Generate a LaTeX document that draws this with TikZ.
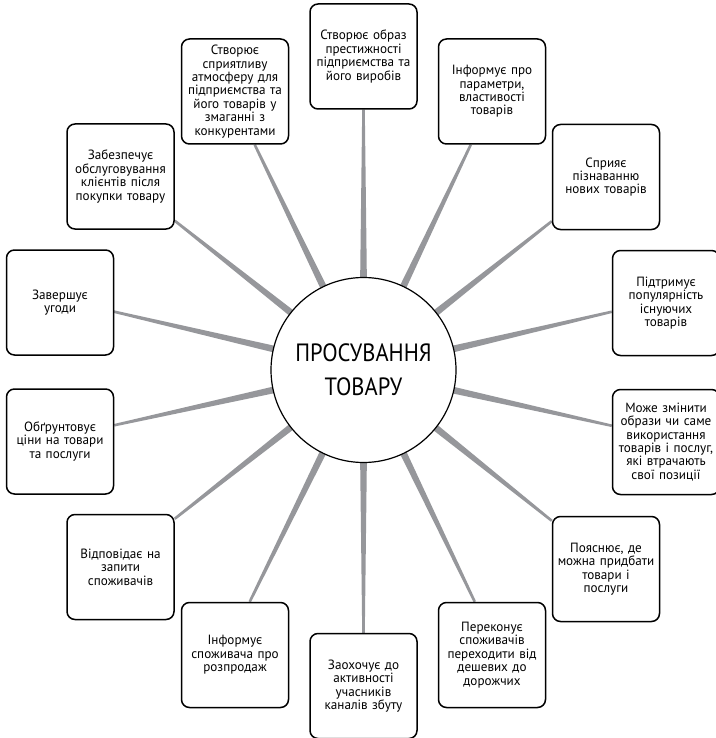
\documentclass[tikz,border=0pt]{standalone}
\usepackage{fontspec}
\setmainfont[FakeStretch=0.98]{PT Sans}
\newfontfamily\hubfont[FakeStretch=0.9]{PT Sans}
\usetikzlibrary{calc}
\definecolor{spokegray}{RGB}{150,151,155}
\pgfdeclarelayer{bg}
\pgfsetlayers{bg,main}
\tikzset{
  box/.style={draw=black, line width=1.5pt, rounded corners=8pt, fill=white,
    minimum width=107pt, minimum height=105pt, text width=105pt, align=center,
    inner sep=1pt, font=\fontsize{13.4}{13.4}\selectfont},
  hub/.style={circle, draw=black, line width=1.2pt, fill=white,
    minimum size=185pt, inner sep=0pt, align=center,
    font=\hubfont\fontsize{25}{34}\selectfont},
}
\begin{document}
\begin{tikzpicture}[x=1pt,y=-1pt]
\useasboundingbox (0,0) rectangle (715,738);
\node[hub] (c) at (363.5,370) {ПРОСУВАННЯ\\ТОВАРУ};
\node[box] (b1) at (363.5,56.5) {Створює образ\\престижності\\підприємства та\\його виробів};
\node[box] (b2) at (235,91.5) {Створює\\сприятливу\\атмосферу для\\підприємства та\\його товарів у\\змаганні з\\конкурентами};
\node[box] (b3) at (492,91.5) {Інформує про\\параметри,\\властивості\\товарів};
\node[box] (b4) at (606,177) {Сприяє\\пізнаванню\\нових товарів};
\node[box] (b5) at (666,303) {Підтримує\\популярність\\існуючих\\товарів};
\node[box] (b6) at (666,442) {Може змінити\\образи чи саме\\використання\\товарів і послуг,\\які втрачають\\свої позиції};
\node[box] (b7) at (606,569) {Пояснює, де\\можна придбати\\товари і\\послуги};
\node[box] (b8) at (492,655) {Переконує\\споживачів\\переходити від\\дешевих до\\дорожчих};
\node[box] (b9) at (363.5,686) {Заохочує до\\активності\\учасників\\каналів збуту};
\node[box] (b10) at (235,655) {Інформує\\споживача про\\розпродаж};
\node[box] (b11) at (120.5,567) {Відповідає на\\запити\\споживачів};
\node[box] (b12) at (60,441.5) {Обґрунтовує\\ціни на товари\\та послуги};
\node[box] (b13) at (60,302.5) {Завершує\\угоди};
\node[box] (b14) at (120.5,176.5) {Забезпечує\\обслуговування\\клієнтів після\\покупки товару};
% attach points on the boxes
\coordinate (a1) at (b1.south);
\coordinate (a2) at ($(b2.south west)+(74,0)$);
\coordinate (a3) at ($(b3.south west)+(33,0)$);
\coordinate (a4) at ($(b4.south west)+(0,-9)$);
\coordinate (a5) at ($(b5.north west)+(0,62)$);
\coordinate (a6) at ($(b6.north west)+(0,37)$);
\coordinate (a7) at ($(b7.north west)+(0,5)$);
\coordinate (a8) at ($(b8.north west)+(37,0)$);
\coordinate (a9) at (b9.north);
\coordinate (a10) at ($(b10.north west)+(69,0)$);
\coordinate (a11) at ($(b11.north east)+(0,5)$);
\coordinate (a12) at ($(b12.north east)+(0,37)$);
\coordinate (a13) at ($(b13.north west)+(106.5,62)$);
\coordinate (a14) at ($(b14.south east)+(0,-9)$);
\begin{pgfonlayer}{bg}
\foreach \a in {a1,a2,a3,a4,a5,a6,a7,a8,a9,a10,a11,a12,a13,a14}{
  \coordinate (p) at ($(c.center)!88pt!(\a)$);
  \fill[spokegray] ($(p)!3.4pt!90:(\a)$) -- ($(\a)!1.3pt!-90:(p)$)
    -- ($(\a)!1.3pt!90:(p)$) -- ($(p)!3.4pt!-90:(\a)$) -- cycle;
}
\end{pgfonlayer}
\end{tikzpicture}
\end{document}
